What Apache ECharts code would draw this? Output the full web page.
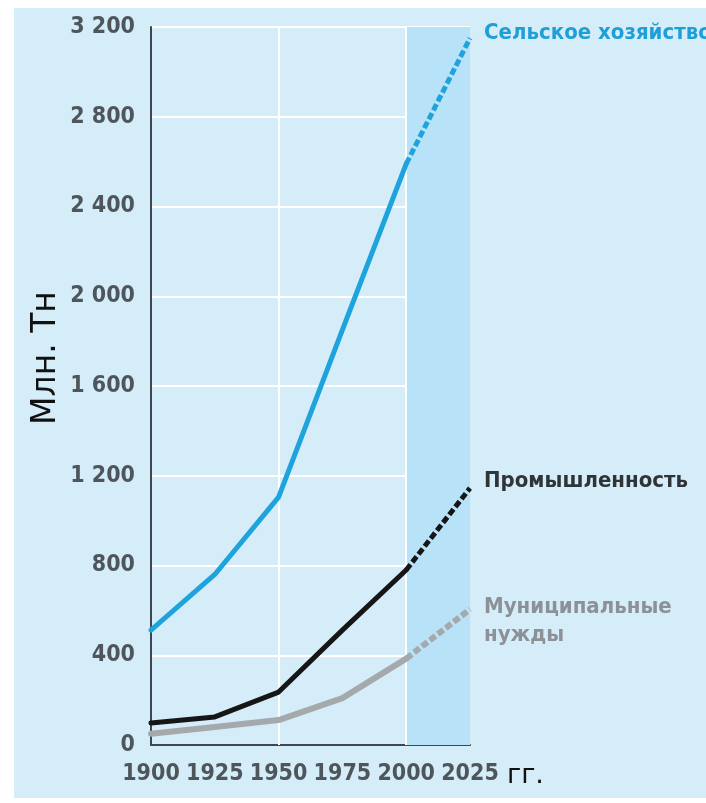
<!DOCTYPE html>
<html>
<head>
<meta charset="utf-8">
<script src="https://cdn.jsdelivr.net/npm/echarts@6/dist/echarts.min.js"></script>
<style>
  html, body { margin: 0; padding: 0; background: #ffffff; }
  #chart { width: 706px; height: 803px; }
</style>
</head>
<body>
<div id="chart"></div>
<script>
// Water withdrawal by sector, million tonnes; values after 2000 are a forecast
const years = [1900, 1925, 1950, 1975, 2000, 2025];
const agriculture = [512, 760, 1105, 1850, 2590, 3150];
const industry = [98, 125, 236, 512, 780, 1145];
const municipal = [50, 80, 111, 209, 385, 605];
const forecastStart = 2000;
const yTicks = [0, 400, 800, 1200, 1600, 2000, 2400, 2800, 3200];

const sectorNames = {
  agriculture: 'Сельское хозяйство',
  industry: 'Промышленность',
  municipal: 'Муниципальные\nнужды'
};

const tickFont = '"DejaVu Sans Condensed", "Liberation Sans Narrow", sans-serif';

function pairs(values, keep) {
  return years.map((y, i) => [y, values[i]]).filter(p => keep(p[0]));
}

function sectorSeries(name, values, color, width, label) {
  const past = {
    name: name,
    type: 'line',
    data: pairs(values, y => y <= forecastStart),
    symbol: 'none',
    lineStyle: { color: color, width: width, cap: 'round', join: 'round' },
    z: 5
  };
  const forecast = {
    name: name,
    type: 'line',
    data: pairs(values, y => y >= forecastStart),
    symbol: 'none',
    lineStyle: { color: color, width: width, type: [7, 3] },
    endLabel: Object.assign({
      show: true,
      formatter: () => name,
      fontFamily: tickFont,
      fontWeight: 'bold',
      fontSize: 22,
      distance: 14,
      align: 'left',
      verticalAlign: 'middle'
    }, label),
    z: 5
  };
  return [past, forecast];
}

const chart = echarts.init(document.getElementById('chart'));

chart.setOption({
  animation: false,
  backgroundColor: '#ffffff',
  graphic: [
    {
      type: 'rect',
      shape: { x: 14, y: 8, width: 692, height: 790 },
      style: { fill: '#d4edf9' },
      z: -10
    },
    {
      type: 'text',
      left: 507,
      top: 762,
      style: { text: 'гг.', fontSize: 27, fill: '#111111', fontFamily: '"DejaVu Sans", sans-serif' }
    },
    {
      type: 'text',
      x: 46,
      y: 358,
      rotation: Math.PI / 2,
      style: {
        text: 'Млн. Тн',
        fontSize: 33,
        fill: '#111111',
        fontFamily: '"DejaVu Sans", sans-serif',
        align: 'center',
        verticalAlign: 'middle'
      }
    }
  ],
  grid: { left: 151, top: 27, right: 236, bottom: 58 },
  xAxis: {
    type: 'value',
    min: 1900,
    max: 2025,
    interval: 25,
    axisLine: { show: true, lineStyle: { color: '#3c4850', width: 2 } },
    axisTick: { show: false },
    splitLine: { show: false },
    axisLabel: {
      color: '#4f565b',
      fontFamily: tickFont,
      fontWeight: 'bold',
      fontSize: 23,
      margin: 18,
      showMinLabel: true,
      showMaxLabel: true,
      hideOverlap: false,
      formatter: v => String(v)
    }
  },
  yAxis: {
    type: 'value',
    min: yTicks[0],
    max: yTicks[yTicks.length - 1],
    interval: 400,
    axisLine: { show: true, lineStyle: { color: '#3c4850', width: 2 } },
    axisTick: { show: false },
    splitLine: { show: true, lineStyle: { color: '#ffffff', width: 2 } },
    axisLabel: {
      color: '#4f565b',
      fontFamily: tickFont,
      fontWeight: 'bold',
      fontSize: 23,
      margin: 16,
      showMinLabel: true,
      showMaxLabel: true,
      formatter: v => String(v).replace(/\B(?=(\d{3})+(?!\d))/g, ' ')
    }
  },
  series: [
    {
      type: 'line',
      data: [],
      silent: true,
      markArea: {
        silent: true,
        itemStyle: { color: '#b8e2f7' },
        data: [[{ xAxis: forecastStart }, { xAxis: 2025 }]]
      },
      markLine: {
        silent: true,
        symbol: 'none',
        label: { show: false },
        lineStyle: { color: '#ffffff', width: 2, type: 'solid' },
        data: [{ xAxis: 1950 }, { xAxis: forecastStart }]
      },
      z: 1
    },
    ...sectorSeries(sectorNames.municipal, municipal, '#a6a9ac', 6,
      { color: '#8b9196', offset: [0, 12], lineHeight: 28 }),
    ...sectorSeries(sectorNames.industry, industry, '#161616', 5,
      { color: '#2f3438', offset: [0, -7] }),
    ...sectorSeries(sectorNames.agriculture, agriculture, '#1ea3dd', 5,
      { color: '#1f9fd8', offset: [0, -5] })
  ]
});
</script>
</body>
</html>
